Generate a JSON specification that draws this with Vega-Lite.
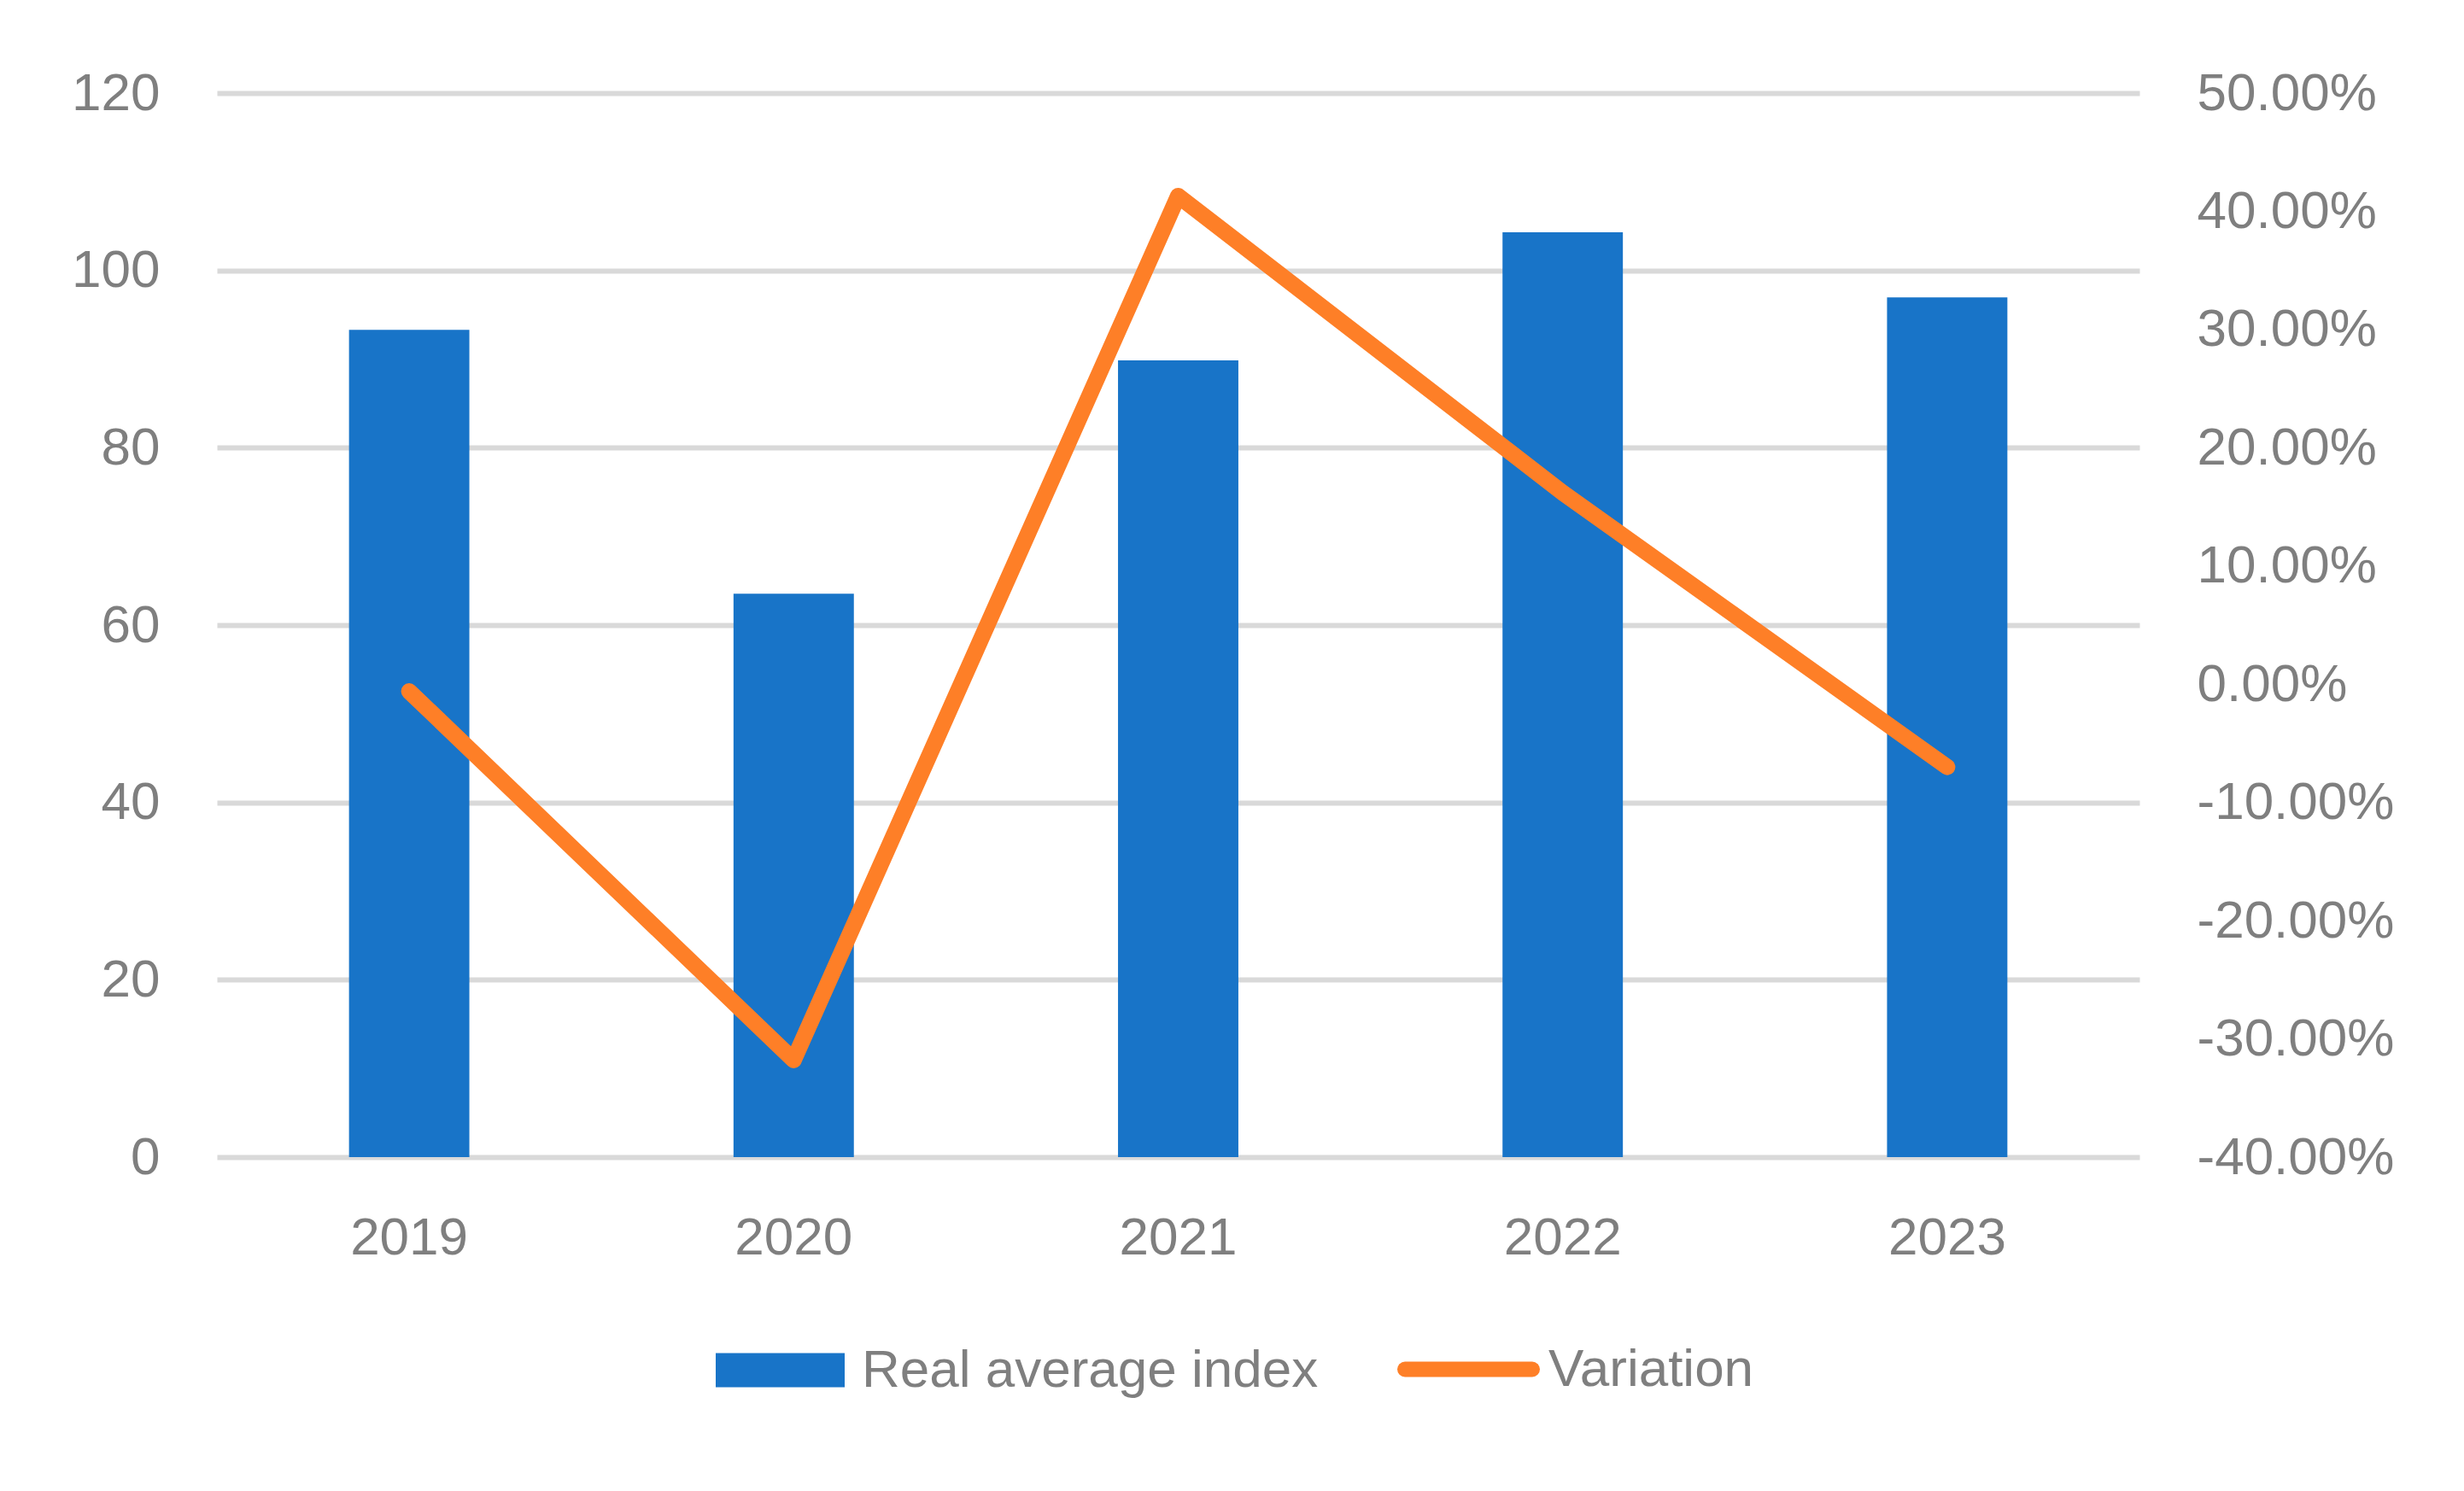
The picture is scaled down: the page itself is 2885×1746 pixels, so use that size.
{
  "$schema": "https://vega.github.io/schema/vega-lite/v6.json",
  "width": 2251,
  "height": 1246,
  "autosize": {"type": "none"},
  "padding": {"left": 254, "top": 109, "right": 380, "bottom": 391},
  "background": "white",
  "config": {
    "view": {"stroke": null},
    "font": "Liberation Sans",
    "axis": {
      "labelFont": "Liberation Sans",
      "labelFontSize": 62,
      "labelColor": "#7f7f7f",
      "labelLimit": 0,
      "ticks": false,
      "tickSize": 0,
      "domain": false,
      "title": null
    },
    "legend": {
      "labelFont": "Liberation Sans",
      "labelFontSize": 62,
      "labelColor": "#7f7f7f",
      "labelLimit": 0,
      "title": null,
      "padding": 0
    }
  },
  "data": {
    "values": [
      {"year": "2019", "index": 93.3, "variation": -0.006},
      {"year": "2020", "index": 63.55, "variation": -0.318},
      {"year": "2021", "index": 89.86, "variation": 0.413},
      {"year": "2022", "index": 104.3, "variation": 0.162},
      {"year": "2023", "index": 96.97, "variation": -0.07}
    ]
  },
  "encoding": {
    "x": {
      "field": "year",
      "type": "ordinal",
      "scale": {"paddingInner": 0.687, "paddingOuter": 0.3435},
      "axis": {"labelAngle": 0, "labelPadding": 64, "grid": false}
    }
  },
  "layer": [
    {
      "mark": {"type": "bar"},
      "encoding": {
        "y": {
          "field": "index",
          "type": "quantitative",
          "scale": {"domain": [0, 120], "nice": false},
          "axis": {
            "orient": "left",
            "values": [0, 20, 40, 60, 80, 100, 120],
            "grid": true,
            "gridColor": "#d9d9d9",
            "gridWidth": 6,
            "labelPadding": 67
          }
        },
        "color": {
          "datum": "Real average index",
          "scale": {"range": ["#1874C8"]},
          "legend": {
            "orient": "none",
            "legendX": 584,
            "legendY": 1420,
            "symbolType": "M-1,-0.265H1V0.265H-1Z",
            "symbolSize": 22801,
            "symbolStrokeWidth": 0,
            "labelOffset": 20
          }
        }
      }
    },
    {
      "mark": {"type": "line", "strokeWidth": 19, "strokeCap": "round", "strokeJoin": "round"},
      "encoding": {
        "y": {
          "field": "variation",
          "type": "quantitative",
          "scale": {"domain": [-0.4, 0.5], "nice": false, "zero": false},
          "axis": {
            "orient": "right",
            "values": [-0.4, -0.3, -0.2, -0.1, 0, 0.1, 0.2, 0.3, 0.4, 0.5],
            "grid": false,
            "labelPadding": 67,
            "labelAlign": "left",
            "labelExpr": "replace(format(datum.value, '.2%'), '\u2212', '-')"
          }
        },
        "stroke": {
          "datum": "Variation",
          "scale": {"range": ["#FE7F27"]},
          "legend": {
            "orient": "none",
            "legendX": 1382,
            "legendY": 1411,
            "symbolType": "stroke",
            "symbolSize": 22201,
            "symbolStrokeWidth": 18,
            "labelOffset": 10,
            "encode": {"symbols": {"update": {"strokeCap": {"value": "round"}, "strokeWidth": {"value": 18}}}}
          }
        }
      }
    }
  ],
  "resolve": {"scale": {"y": "independent"}}
}
